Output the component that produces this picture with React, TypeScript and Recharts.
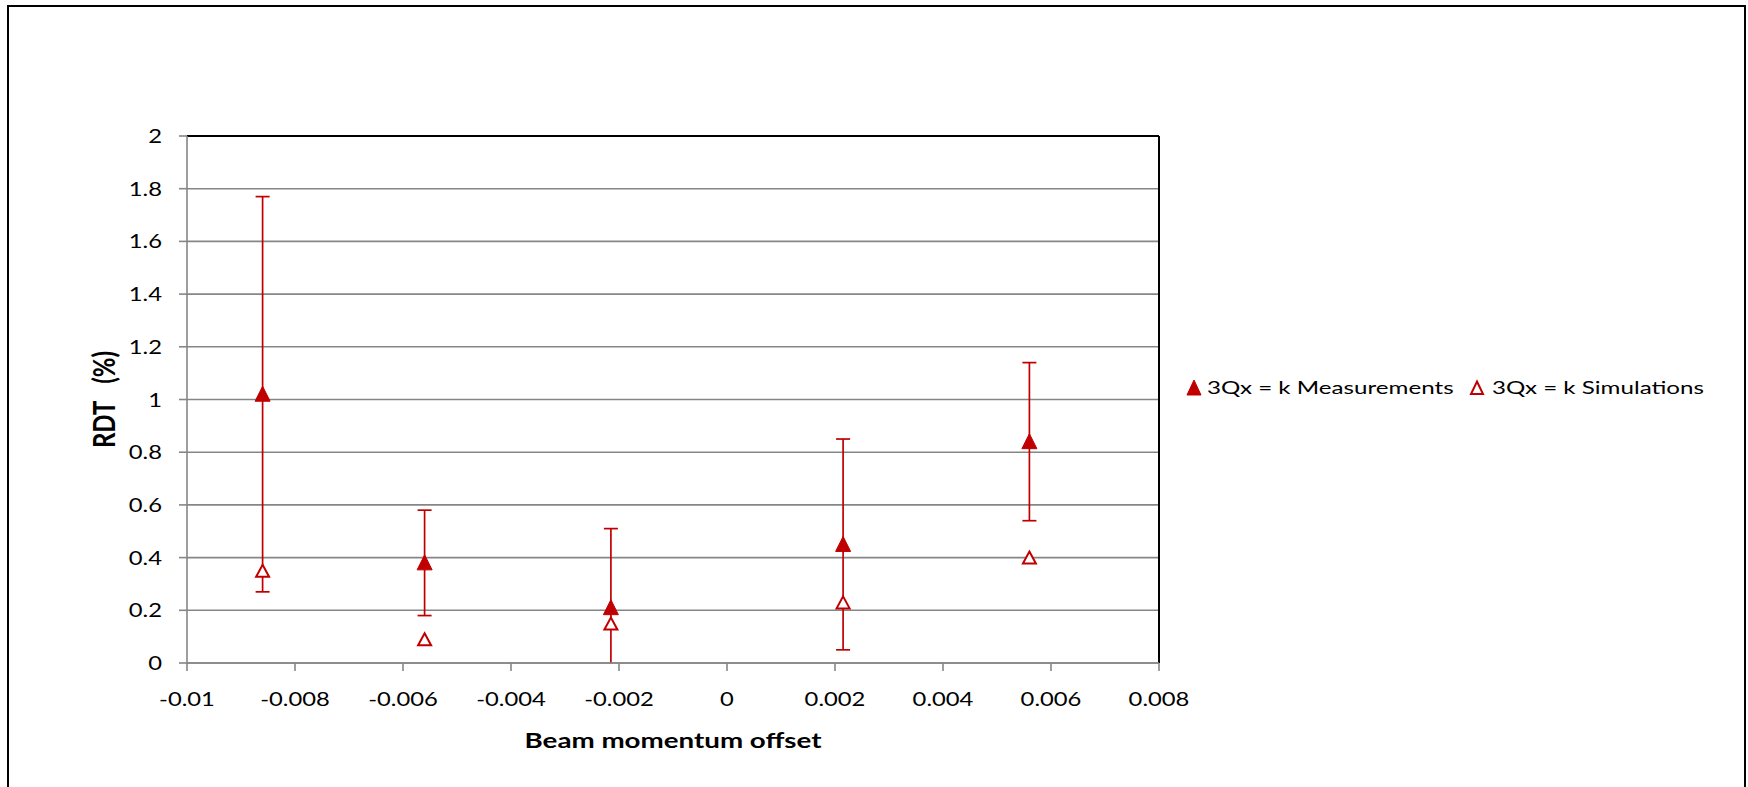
import React from 'react';
import * as Recharts from 'recharts';
import {
  ScatterChart,
  Scatter,
  XAxis,
  YAxis,
  CartesianGrid,
  ErrorBar,
  ReferenceLine,
  Legend,
} from 'recharts';

// Beam momentum offsets of the five measurement points
const offsets = [-0.0086, -0.0056, -0.00215, 0.00215, 0.0056];
// Measured RDT (%) with lower / upper error bounds
const measured = [1.02, 0.38, 0.21, 0.45, 0.84];
const measuredLow = [0.27, 0.18, -0.09, 0.05, 0.54];
const measuredHigh = [1.77, 0.58, 0.51, 0.85, 1.14];
// Simulated RDT (%)
const simulated = [0.35, 0.09, 0.15, 0.23, 0.4];

// Axis ticks
const xTicks = [-0.01, -0.008, -0.006, -0.004, -0.002, 0, 0.002, 0.004, 0.006, 0.008];
const yTicks = [0, 0.2, 0.4, 0.6, 0.8, 1, 1.2, 1.4, 1.6, 1.8, 2];

const measuredName = '3Qx = k Measurements';
const simulatedName = '3Qx = k Simulations';

const measuredData = offsets.map((x, i) => ({
  x,
  y: measured[i],
  err: [measured[i] - measuredLow[i], measuredHigh[i] - measured[i]],
}));
const simulatedData = offsets.map((x, i) => ({ x, y: simulated[i] }));

const RED = '#C00000';
const GRID = '#868686';
const FONT = 'Lato, "Open Sans", sans-serif';

// Text in this chart is drawn a bit wider than the font's natural proportions
const TICK_SX = 1.22;
const TICK_FS = 19.5;

const usePlotAreaHook: any = (Recharts as any).usePlotArea;

// Clip region for the error bars: everything above the x axis inside the plot
const PlotClip = () => {
  const area = usePlotAreaHook ? usePlotAreaHook() : null;
  const x = area ? area.x : 187;
  const y = area ? area.y : 136;
  const w = area ? area.width : 972;
  const h = area ? area.height : 527;
  return (
    <defs>
      <clipPath id="errorbar-clip">
        <rect x={x - 20} y={y - 20} width={w + 40} height={h + 20} />
      </clipPath>
    </defs>
  );
};

const FilledTriangle = (props: any) => {
  const { cx, cy } = props;
  if (cx == null || cy == null) return null;
  return (
    <polygon
      points={`${cx},${cy - 8} ${cx + 7.5},${cy + 7} ${cx - 7.5},${cy + 7}`}
      fill={RED}
      stroke={RED}
      strokeWidth={1}
    />
  );
};

const HollowTriangle = (props: any) => {
  const { cx, cy } = props;
  if (cx == null || cy == null) return null;
  return (
    <polygon
      points={`${cx},${cy - 6} ${cx + 6.5},${cy + 6} ${cx - 6.5},${cy + 6}`}
      fill="#ffffff"
      stroke={RED}
      strokeWidth={2}
    />
  );
};

const XTick = (props: any) => {
  const { x, y, payload } = props;
  return (
    <g transform={`translate(${x}, ${y}) scale(${TICK_SX}, 1)`}>
      <text x={0} y={0} dy={35} textAnchor="middle" fontFamily={FONT} fontSize={TICK_FS} fill="#000">
        {String(payload.value)}
      </text>
    </g>
  );
};

const YTick = (props: any) => {
  const { x, y, payload } = props;
  return (
    <g transform={`translate(${x}, ${y}) scale(${TICK_SX}, 1)`}>
      <text x={0} y={0} dy="0.36em" textAnchor="end" fontFamily={FONT} fontSize={TICK_FS} fill="#000">
        {String(payload.value)}
      </text>
    </g>
  );
};

const LegendIcon = ({ filled }: { filled: boolean }) => (
  <svg width={16} height={17} style={{ display: 'block' }}>
    <polygon
      points={filled ? '8,1 15,16 1,16' : '8,2.5 14,15 2,15'}
      fill={filled ? RED : '#ffffff'}
      stroke={RED}
      strokeWidth={filled ? 1 : 2}
    />
  </svg>
);

const LegendLabel = ({ text }: { text: string }) => (
  <span
    style={{
      display: 'inline-block',
      transform: 'scaleX(1.38)',
      transformOrigin: 'left center',
    }}
  >
    {text}
  </span>
);

const renderLegend = () => (
  <div
    style={{
      position: 'relative',
      fontFamily: FONT,
      fontSize: 17.5,
      color: '#000',
      whiteSpace: 'nowrap',
      height: 22,
      width: 540,
    }}
  >
    <div style={{ position: 'absolute', left: 0, top: 2 }}>
      <LegendIcon filled />
    </div>
    <div style={{ position: 'absolute', left: 21, top: 0 }}>
      <LegendLabel text={measuredName} />
    </div>
    <div style={{ position: 'absolute', left: 283, top: 2 }}>
      <LegendIcon filled={false} />
    </div>
    <div style={{ position: 'absolute', left: 306, top: 0 }}>
      <LegendLabel text={simulatedName} />
    </div>
  </div>
);

const XTitle = (props: any) => {
  const vb = props.viewBox || {};
  const cx = vb.x + vb.width / 2;
  const cy = vb.y + 85;
  return (
    <g transform={`translate(${cx}, ${cy}) scale(1.32, 1)`}>
      <text x={0} y={0} textAnchor="middle" fontFamily={FONT} fontWeight="bold" fontSize={21} fill="#000">
        Beam momentum offset
      </text>
    </g>
  );
};

const YTitle = (props: any) => {
  const vb = props.viewBox || {};
  const cx = 103;
  const cy = vb.y + vb.height / 2;
  return (
    <g transform={`translate(${cx}, ${cy}) scale(1.3, 1) rotate(-90)`}>
      <text
        x={0}
        y={0}
        textAnchor="middle"
        dominantBaseline="central"
        fontFamily={FONT}
        fontWeight="bold"
        fontSize={24}
        fill="#000"
        style={{ whiteSpace: 'pre', wordSpacing: 3 }}
      >
        {'RDT  (%)'}
      </text>
    </g>
  );
};

export default function App() {
  return (
    <div
      style={{
        position: 'absolute',
        left: 0,
        top: 0,
        width: 1748,
        height: 787,
        background: '#ffffff',
        overflow: 'hidden',
      }}
    >
      <div
        style={{
          position: 'absolute',
          left: 7,
          top: 5,
          width: 1735,
          height: 800,
          border: '2px solid #000',
        }}
      />
      <ScatterChart
        width={1748}
        height={787}
        margin={{ top: 136, left: 127, right: 589, bottom: 74 }}
      >
        <PlotClip />
        <CartesianGrid horizontal vertical={false} stroke={GRID} strokeWidth={1.6} />
        <XAxis
          type="number"
          dataKey="x"
          domain={[-0.01, 0.008]}
          ticks={xTicks}
          interval={0}
          height={50}
          allowDataOverflow
          axisLine={{ stroke: GRID, strokeWidth: 1.6 }}
          tickLine={{ stroke: GRID, strokeWidth: 1.6 }}
          tickSize={8}
          tickMargin={0}
          tick={<XTick />}
          label={<XTitle />}
        />
        <YAxis
          type="number"
          dataKey="y"
          domain={[0, 2]}
          ticks={yTicks}
          interval={0}
          width={60}
          allowDataOverflow
          axisLine={{ stroke: GRID, strokeWidth: 1.6 }}
          tickLine={{ stroke: GRID, strokeWidth: 1.6 }}
          tickSize={8}
          tickMargin={17}
          tick={<YTick />}
          label={<YTitle />}
        />
        <ReferenceLine y={2} stroke="#000" strokeWidth={2} />
        <ReferenceLine x={0.008} stroke="#000" strokeWidth={2} />
        <Legend
          layout="horizontal"
          verticalAlign="middle"
          align="center"
          content={renderLegend}
          wrapperStyle={{ left: 1186, top: 377, width: 540 }}
        />
        <Scatter
          name={measuredName}
          data={measuredData}
          fill={RED}
          shape={<FilledTriangle />}
          isAnimationActive={false}
        >
          <ErrorBar
            dataKey="err"
            direction="y"
            width={7}
            stroke={RED}
            strokeWidth={1.7}
            clipPath="url(#errorbar-clip)"
            isAnimationActive={false}
          />
        </Scatter>
        <Scatter
          name={simulatedName}
          data={simulatedData}
          fill="#ffffff"
          shape={<HollowTriangle />}
          isAnimationActive={false}
        />
      </ScatterChart>
    </div>
  );
}
